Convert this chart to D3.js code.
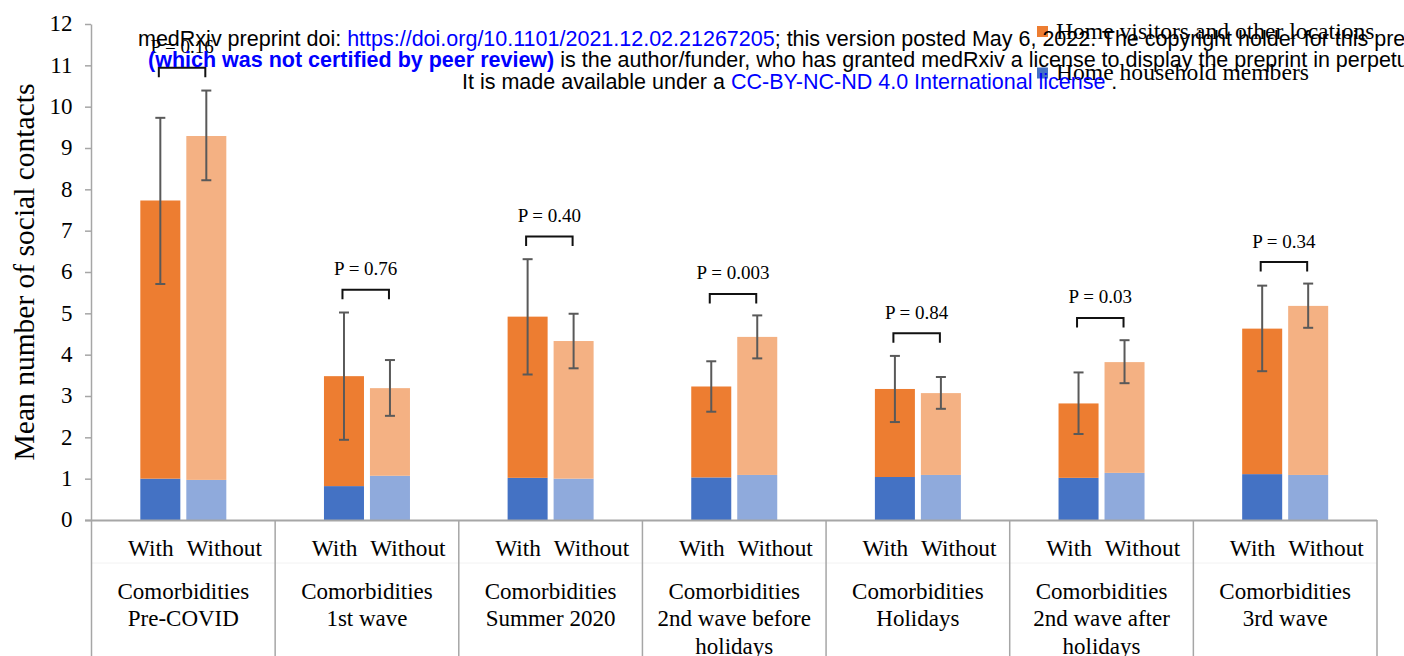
<!DOCTYPE html>
<html><head><meta charset="utf-8">
<script src="https://cdn.jsdelivr.net/npm/d3@7"></script>
<style>body{margin:0;background:#fff} svg{display:block}</style>
</head><body>
<svg id="chart" width="1404" height="656"></svg>
<script>
// ---------- data ----------
const periods = ["Pre-COVID","1st wave","Summer 2020","2nd wave before holidays","Holidays","2nd wave after holidays","3rd wave"];
const periodLabelLines = [
  ["Comorbidities","Pre-COVID"],
  ["Comorbidities","1st wave"],
  ["Comorbidities","Summer 2020"],
  ["Comorbidities","2nd wave before","holidays"],
  ["Comorbidities","Holidays"],
  ["Comorbidities","2nd wave after","holidays"],
  ["Comorbidities","3rd wave"]
];
const groups = ["With","Without"];
const seriesNames = ["Home visitors and other locations","Home household members"];

const householdWith    = [1.00, 0.82, 1.02, 1.03, 1.04, 1.02, 1.11];
const visitorsWith     = [6.73, 2.66, 3.90, 2.20, 2.13, 1.80, 3.52];
const householdWithout = [0.97, 1.07, 1.00, 1.09, 1.09, 1.14, 1.09];
const visitorsWithout  = [8.32, 2.12, 3.33, 3.34, 1.98, 2.68, 4.09];

const ciLowWith     = [5.71, 1.94, 3.52, 2.62, 2.37, 2.08, 3.60];
const ciHighWith    = [9.73, 5.02, 6.31, 3.84, 3.97, 3.57, 5.67];
const ciLowWithout  = [8.22, 2.52, 3.67, 3.91, 2.69, 3.31, 4.65];
const ciHighWithout = [10.39, 3.87, 4.99, 4.95, 3.46, 4.35, 5.72];

const pValues     = ["P = 0.16","P = 0.76","P = 0.40","P = 0.003","P = 0.84","P = 0.03","P = 0.34"];
const bracketLevel = [10.94, 5.57, 6.86, 5.47, 4.52, 4.89, 6.24];

const yTicks = [0,1,2,3,4,5,6,7,8,9,10,11,12];
const yTitle = "Mean number of social contacts";

// ---------- build ----------
const colors = {
  With:    {household:"#4472C4", visitors:"#ED7D31"},
  Without: {household:"#8FAADC", visitors:"#F4B183"}
};
const serif = "'Liberation Serif','Times New Roman',serif";
const sans = "'Liberation Sans',Arial,sans-serif";

const rows = periods.map((p,i)=>({
  period:p, i,
  With:{h:householdWith[i], v:visitorsWith[i], lo:ciLowWith[i], hi:ciHighWith[i]},
  Without:{h:householdWithout[i], v:visitorsWithout[i], lo:ciLowWithout[i], hi:ciHighWithout[i]}
}));

const svg = d3.select("#chart");
const y = d3.scaleLinear().domain([0,12]).range([520,24]);
const x = d3.scaleBand().domain(periods).range([91.5,1377]);
const xi = d3.scaleBand().domain(groups).range([-43,43]).paddingInner(0.13);
const cx = p => x(p) + x.bandwidth()/2;

// faint separator between rows of the category axis
svg.append("line").attr("x1",x.range()[0]).attr("x2",x.range()[1])
  .attr("y1",563).attr("y2",563).attr("stroke","#f2f2f2").attr("stroke-width",1);

// y axis
const yAxis = svg.append("g").attr("transform","translate(91,0)")
  .call(d3.axisLeft(y).tickValues(yTicks).tickSize(6).tickSizeOuter(0).tickPadding(12.5).tickFormat(d3.format("d")));
yAxis.select(".domain").attr("stroke","#a6a6a6").attr("stroke-width",1.5);
yAxis.selectAll(".tick line").attr("stroke","#a6a6a6").attr("stroke-width",1.5);
yAxis.selectAll(".tick text").attr("font-family",serif).attr("font-size",23).attr("fill","#000").attr("dy","0.3em");

// y title
svg.append("text").attr("transform",`translate(34,${272}) rotate(-90)`)
  .attr("text-anchor","middle").attr("font-family",serif).attr("font-size",29.5).attr("fill","#000")
  .text(yTitle);

// bars
const barG = svg.append("g");
rows.forEach(r=>{
  groups.forEach(g=>{
    const d = r[g];
    const bx = cx(r.period) + xi(g);
    barG.append("rect").attr("x",bx).attr("width",xi.bandwidth())
      .attr("y",y(d.h)).attr("height",y(0)-y(d.h)).attr("fill",colors[g].household);
    barG.append("rect").attr("x",bx).attr("width",xi.bandwidth())
      .attr("y",y(d.h+d.v)).attr("height",y(d.h)-y(d.h+d.v)).attr("fill",colors[g].visitors);
  });
});

// error bars
const errG = svg.append("g").attr("stroke","#595959").attr("stroke-width",2).attr("fill","none");
rows.forEach(r=>{
  groups.forEach(g=>{
    const d = r[g];
    const ex = cx(r.period) + xi(g) + xi.bandwidth()/2;
    errG.append("line").attr("x1",ex).attr("x2",ex).attr("y1",y(d.lo)).attr("y2",y(d.hi));
    errG.append("line").attr("x1",ex-5).attr("x2",ex+5).attr("y1",y(d.lo)).attr("y2",y(d.lo));
    errG.append("line").attr("x1",ex-5).attr("x2",ex+5).attr("y1",y(d.hi)).attr("y2",y(d.hi));
  });
});

// x axis line and dividers
svg.append("line").attr("x1",85).attr("x2",x.range()[1]).attr("y1",520.5).attr("y2",520.5)
  .attr("stroke","#a6a6a6").attr("stroke-width",2);
const dividers = periods.map(p=>x(p)).concat([x.range()[1]]);
svg.selectAll("line.div").data(dividers).join("line").attr("class","div")
  .attr("x1",d=>d).attr("x2",d=>d).attr("y1",520).attr("y2",656)
  .attr("stroke","#a6a6a6").attr("stroke-width",1.5);

// x labels
rows.forEach(r=>{
  const x0 = x(r.period);
  svg.append("text").attr("x",x0+36.5).attr("y",555.5).attr("font-family",serif).attr("font-size",23.3)
    .attr("fill","#000").text(groups[0]);
  svg.append("text").attr("x",x0+95).attr("y",555.5).attr("font-family",serif).attr("font-size",23.3)
    .attr("fill","#000").text(groups[1]);
  const t = svg.append("text").attr("text-anchor","middle").attr("font-family",serif).attr("font-size",23)
    .attr("fill","#000");
  periodLabelLines[r.i].forEach((ln,k)=>{
    t.append("tspan").attr("x",cx(r.period)).attr("y",598.5+k*27.5).text(ln);
  });
});

// significance brackets
const brG = svg.append("g");
rows.forEach(r=>{
  const x1 = cx(r.period) + xi("With") + xi.bandwidth()/2 - 1.5;
  const x2 = cx(r.period) + xi("Without") + xi.bandwidth()/2 - 1;
  const by = y(bracketLevel[r.i]);
  brG.append("path").attr("d",`M${x1},${by+9.5}V${by}H${x2}V${by+9.5}`)
    .attr("fill","none").attr("stroke","#111").attr("stroke-width",2);
  brG.append("text").attr("x",(x1+x2)/2).attr("y",by-14.5).attr("text-anchor","middle")
    .attr("font-family",serif).attr("font-size",19).attr("fill","#000").text(pValues[r.i]);
});

// legend
const legendY = [38.5, 80];
const legendColors = [colors.With.visitors, colors.With.household];
seriesNames.forEach((s,k)=>{
  svg.append("rect").attr("x",1037).attr("y",legendY[k]-12.5).attr("width",11).attr("height",11).attr("fill",legendColors[k]);
  svg.append("text").attr("x",1056).attr("y",legendY[k]).attr("font-family",serif).attr("font-size",23.6)
    .attr("fill","#000").text(s);
});

// medRxiv header overlay
const hdr = svg.append("g").attr("font-family",sans).attr("font-size",21.5).attr("fill","#000");
const l1 = hdr.append("text").attr("x",138).attr("y",45.5);
l1.append("tspan").text("medRxiv preprint doi: ");
l1.append("tspan").attr("fill","#0000ff").text("https://doi.org/10.1101/2021.12.02.21267205");
l1.append("tspan").text("; this version posted May 6, 2022. The copyright holder for this preprint");
const l2 = hdr.append("text").attr("x",148).attr("y",67);
l2.append("tspan").attr("fill","#0000ff").attr("font-weight","bold").text("(which was not certified by peer review)");
l2.append("tspan").text(" is the author/funder, who has granted medRxiv a license to display the preprint in perpetuity.");
const l3 = hdr.append("text").attr("x",462).attr("y",88.5);
l3.append("tspan").text("It is made available under a ");
l3.append("tspan").attr("fill","#0000ff").text("CC-BY-NC-ND 4.0 International license");
l3.append("tspan").text(" .");
</script>
</body></html>
